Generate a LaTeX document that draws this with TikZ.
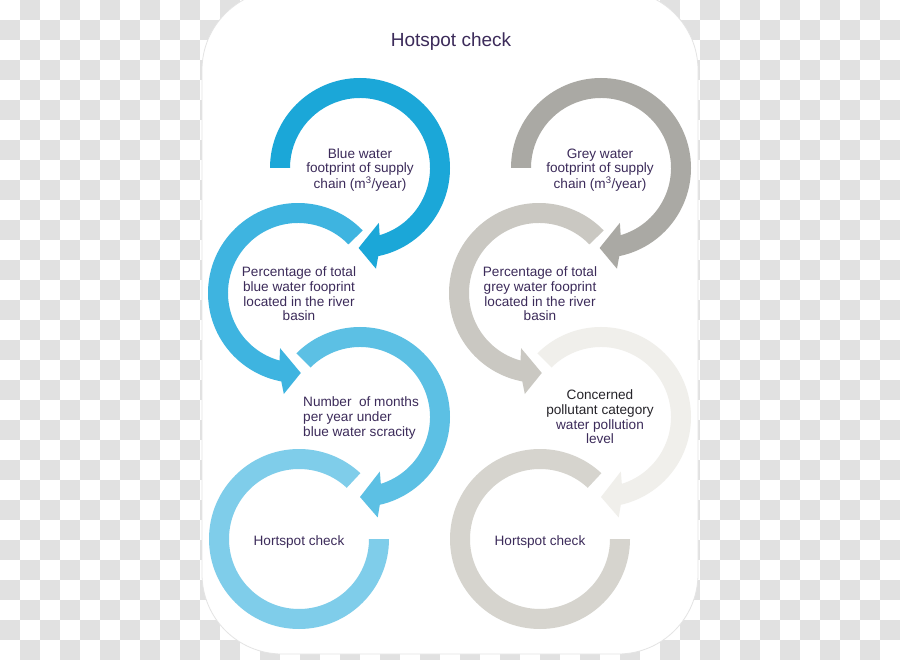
\documentclass[tikz,border=0pt]{standalone}
\usepackage{fontspec}
\setmainfont{Liberation Sans}
\usetikzlibrary{calc}
\definecolor{panelline}{RGB}{228,228,228}
\definecolor{checkgrey}{RGB}{225,225,225}
\definecolor{bA}{RGB}{27,167,216}
\definecolor{bB}{RGB}{62,180,224}
\definecolor{bC}{RGB}{92,192,228}
\definecolor{bD}{RGB}{127,205,234}
\definecolor{gA}{RGB}{170,169,164}
\definecolor{gB}{RGB}{202,200,194}
\definecolor{gC}{RGB}{240,239,235}
\definecolor{gD}{RGB}{214,212,206}
\definecolor{txtpurple}{RGB}{60,43,90}
\definecolor{txtdark}{RGB}{38,36,42}
\tikzset{
  lbl/.style={text=txtpurple, font=\fontsize{13.6}{14.6}\selectfont, align=center, inner sep=0pt},
  titlelbl/.style={text=txtpurple, font=\fontsize{19}{22}\selectfont, inner sep=0pt},
  panel/.style={fill=white, draw=panelline, line width=0.8pt, rounded corners=80pt},
  checker/.style={fill=checkgrey}
}
% #1 centre, #2 start angle, #3 head base angle, #4 direction (1/-1), #5 colour
\newcommand\ringarrow[5]{%
  \pgfmathsetmacro\rEo{#3+(#4)*7.3}%
  \pgfmathsetmacro\rEi{#3+(#4)*2.7}%
  \pgfmathsetmacro\rOw{#3+(#4)*10}%
  \pgfmathsetmacro\rTp{#3+(#4)*20}%
  \fill[#5] ($#1+(#2:90)$) arc[start angle=#2, end angle=\rEo, radius=90]
    -- ($#1+(\rOw:102)$) -- ($#1+(\rTp:80)$) -- ($#1+(#3:58)$)
    -- ($#1+(\rEi:70)$) arc[start angle=\rEi, end angle=#2, radius=70] -- cycle;
}
\newcommand\ringopen[2]{%
  \fill[#2] ($#1+(0:90)$) arc[start angle=0, end angle=313, radius=90]
    -- ($#1+(313:70)$) arc[start angle=313, end angle=0, radius=70] -- cycle;
}
\begin{document}
\begin{tikzpicture}[x=1pt,y=-1pt]
\useasboundingbox (0,0) rectangle (900,660);
% transparent-style checkerboard background
\fill[white] (0,0) rectangle (900,660);
\foreach \yy in {0,40,...,640}{\foreach \xx in {20,60,...,880}{\fill[checker] (\xx,\yy) rectangle (\xx+20,\yy+20);}}
\foreach \yy in {20,60,...,620}{\foreach \xx in {0,40,...,880}{\fill[checker] (\xx,\yy) rectangle (\xx+20,\yy+20);}}
% white panel
\draw[panel] (202,-10) rectangle (698,654);
% title
\node[titlelbl] (title) at (451,42) {Hotspot check};
% blue column
\ringopen{(299,539)}{bD}
\ringarrow{(360,417)}{-135}{70}{1}{bC}
\ringarrow{(298,293)}{-44}{-252}{-1}{bB}
\ringarrow{(360,168)}{180}{431}{1}{bA}
% grey column
\ringopen{(540,539)}{gD}
\ringarrow{(601,417)}{-135}{70}{1}{gC}
\ringarrow{(539,293)}{-44}{-252}{-1}{gB}
\ringarrow{(601,168)}{180}{431}{1}{gA}
% labels
\node[lbl] (b1) at (360,170) {Blue water\\footprint of supply\\chain (m\textsuperscript{3}/year)};
\node[lbl] (b2) at (299,294) {Percentage of total\\blue water fooprint\\located in the river\\basin};
\node[lbl, align=left, anchor=west] (b3) at (303,418) {Number\ \ of months\\per year under\\blue water scracity};
\node[lbl] (b4) at (299,541.5) {Hortspot check};
\node[lbl] (g1) at (600,170) {Grey water\\footprint of supply\\chain (m\textsuperscript{3}/year)};
\node[lbl] (g2) at (540,294) {Percentage of total\\grey water fooprint\\located in the river\\basin};
\node[lbl] (g3) at (600,417) {\textcolor{txtdark}{Concerned}\\\textcolor{txtdark}{pollutant category}\\water pollution\\level};
\node[lbl] (g4) at (540,541.5) {Hortspot check};
\end{tikzpicture}
\end{document}
